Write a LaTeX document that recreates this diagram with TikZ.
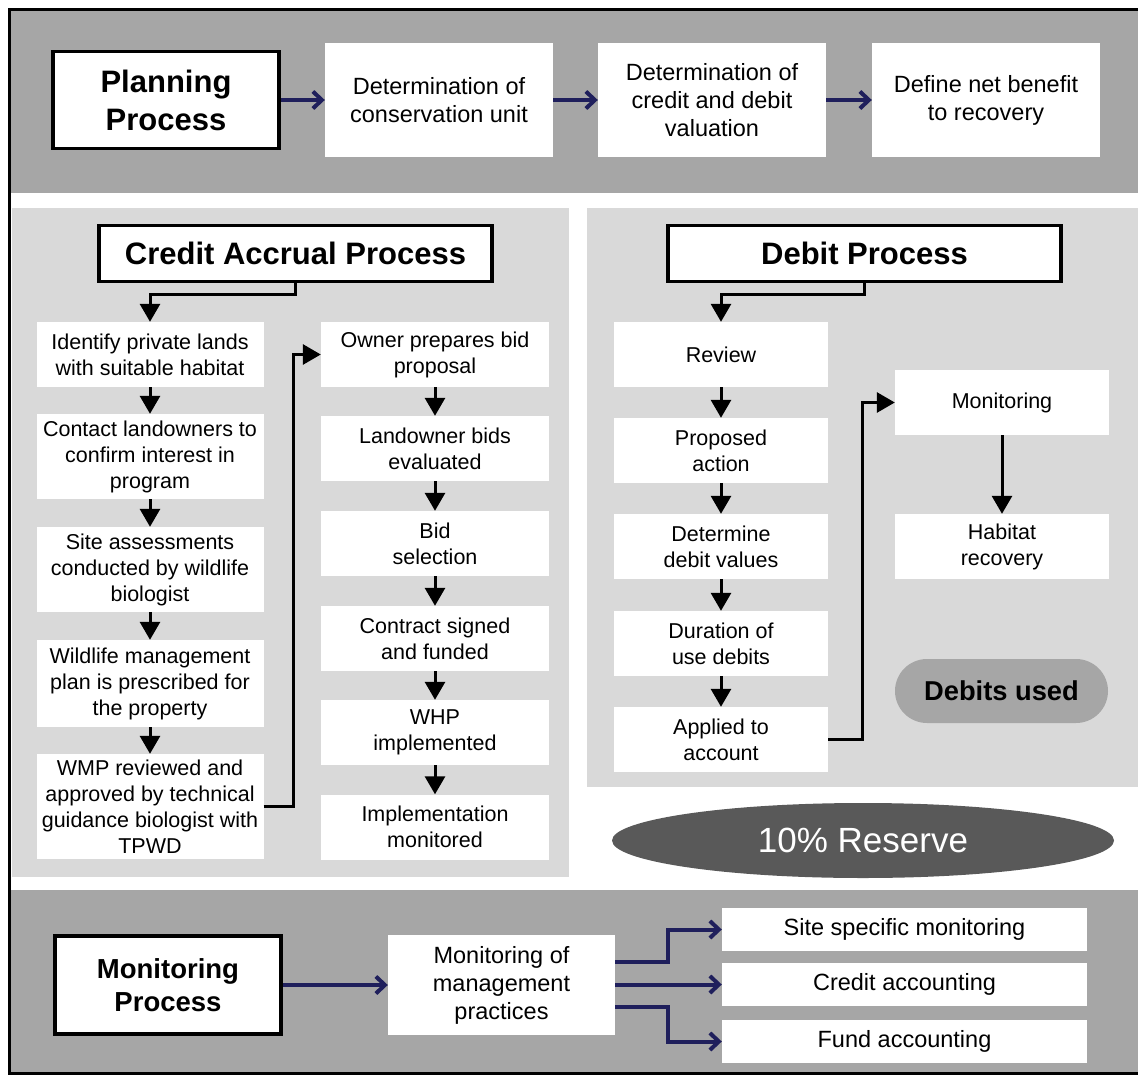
\documentclass[tikz,border=0pt]{standalone}
\usepackage{fontspec}
\setmainfont{Liberation Sans}
\usepackage{tikz}
\usepackage{xcolor}
\usetikzlibrary{arrows.meta,shapes.geometric}
\definecolor{bandgray}{RGB}{166,166,166}
\definecolor{panelgray}{RGB}{217,217,217}
\definecolor{reservegray}{RGB}{89,89,89}
\definecolor{navyline}{RGB}{31,31,92}

\begin{document}
\begin{tikzpicture}[x=1pt,y=-1pt,
  stepbox/.style={fill=white, inner sep=0pt, align=center, font=\fontsize{21.5}{26}\selectfont},
  bigbox/.style={fill=white, inner sep=0pt, align=center, font=\fontsize{23.5}{28}\selectfont},
  headbox/.style={draw=black, line width=3.5pt, fill=white, inner sep=0pt, align=center, font=\bfseries\fontsize{31}{38}\selectfont},
  flow/.style={line width=3pt, -{Triangle[length=18pt,width=20pt]}},
  link/.style={draw=navyline, line width=4pt, -{Straight Barb[length=9pt,width=17pt]}}]
\useasboundingbox (0,0) rectangle (1138,1076);
%% bands and panels
\fill[bandgray] (11,10) rectangle (1138,193);
\fill[panelgray] (12,208) rectangle (569,877);
\fill[panelgray] (587,208) rectangle (1138,787);
\fill[bandgray] (11,890) rectangle (1138,1072);
\draw[line width=3pt] (1138,9) -- (9.5,9) -- (9.5,1073.5) -- (1138,1073.5);

%% planning process
\node[headbox, minimum width=226pt, minimum height=97pt] (plan) at (166,100) {Planning\\Process};
\node[bigbox, minimum width=228pt, minimum height=114pt] (unit) at (439,100) {Determination of\\conservation unit};
\node[bigbox, minimum width=228pt, minimum height=114pt] (valu) at (712,100) {Determination of\\credit and debit\\valuation};
\node[bigbox, minimum width=228pt, minimum height=114pt] (bene) at (986,100) {Define net benefit\\to recovery};
\draw[link] (plan) -- (unit);
\draw[link] (unit) -- (valu);
\draw[link] (valu) -- (bene);

%% credit accrual process
\node[headbox, minimum width=393pt, minimum height=56pt] (credit) at (295.5,253.5) {Credit Accrual Process};
\node[stepbox, minimum width=227pt, minimum height=65pt] (ca1) at (150,354.5) {Identify private lands\\with suitable habitat};
\node[stepbox, minimum width=227pt, minimum height=85pt] (ca2) at (150,456.5) {Contact landowners to\\confirm interest in\\program};
\node[stepbox, minimum width=227pt, minimum height=85pt] (ca3) at (150,569.5) {Site assessments\\conducted by wildlife\\biologist};
\node[stepbox, minimum width=227pt, minimum height=87pt] (ca4) at (150,683.5) {Wildlife management\\plan is prescribed for\\the property};
\node[stepbox, minimum width=227pt, minimum height=105pt] (ca5) at (150,806.5) {WMP reviewed and\\approved by technical\\guidance biologist with\\TPWD};
\node[stepbox, minimum width=228pt, minimum height=65pt] (cb1) at (435,354.5) {Owner prepares bid\\proposal};
\node[stepbox, minimum width=228pt, minimum height=65pt] (cb2) at (435,448.5) {Landowner bids\\evaluated};
\node[stepbox, minimum width=228pt, minimum height=65pt] (cb3) at (435,543.5) {Bid\\selection};
\node[stepbox, minimum width=228pt, minimum height=65pt] (cb4) at (435,638.5) {Contract signed\\and funded};
\node[stepbox, minimum width=228pt, minimum height=65pt] (cb5) at (435,732.5) {WHP\\implemented};
\node[stepbox, minimum width=228pt, minimum height=65pt] (cb6) at (435,827) {Implementation\\monitored};
\draw[flow] (credit.south) -- ++(0,11) -| (ca1.north);
\foreach \a/\b in {ca1/ca2,ca2/ca3,ca3/ca4,ca4/ca5,cb1/cb2,cb2/cb3,cb3/cb4,cb4/cb5,cb5/cb6}
  \draw[flow] (\a) -- (\b);
\draw[flow] (ca5.east) -- ++(30,0) |- (cb1.west);

%% debit process
\node[headbox, minimum width=393pt, minimum height=56pt] (debit) at (864.5,253.5) {Debit Process};
\node[stepbox, minimum width=214pt, minimum height=65pt] (db1) at (721,354.5) {Review};
\node[stepbox, minimum width=214pt, minimum height=65pt] (db2) at (721,450.5) {Proposed\\action};
\node[stepbox, minimum width=214pt, minimum height=65pt] (db3) at (721,546.5) {Determine\\debit values};
\node[stepbox, minimum width=214pt, minimum height=65pt] (db4) at (721,643.5) {Duration of\\use debits};
\node[stepbox, minimum width=214pt, minimum height=65pt] (db5) at (721,739.5) {Applied to\\account};
\node[stepbox, minimum width=214pt, minimum height=65pt] (watch) at (1002,402.5) {Monitoring};
\node[stepbox, minimum width=214pt, minimum height=65pt] (recov) at (1002,546.5) {Habitat\\recovery};
\node[fill=bandgray, rounded corners=32pt, minimum width=213pt, minimum height=64pt,
  font=\bfseries\fontsize{27.3}{32}\selectfont] (used) at (1001.5,691) {Debits used};
\draw[flow] (debit.south) -- ++(0,11) -| (db1.north);
\foreach \a/\b in {db1/db2,db2/db3,db3/db4,db4/db5,watch/recov}
  \draw[flow] (\a) -- (\b);
\draw[flow] (db5.east) -- ++(34,0) |- (watch.west);

%% reserve
\node[ellipse, fill=reservegray, text=white, minimum width=502pt, minimum height=75pt,
  font=\fontsize{35}{40}\selectfont] (reserve) at (863,840.5) {10\% Reserve};

%% monitoring process
\node[headbox, minimum width=226pt, minimum height=98pt, font=\bfseries\fontsize{27.5}{33}\selectfont] (mproc) at (168,985) {Monitoring\\Process};
\node[bigbox, minimum width=227pt, minimum height=100pt] (mgmt) at (501.5,985) {Monitoring of\\management\\practices};
\node[bigbox, minimum width=365pt, minimum height=43pt] (site) at (904.5,929.5) {Site specific monitoring};
\node[bigbox, minimum width=365pt, minimum height=43pt] (cacc) at (904.5,984.5) {Credit accounting};
\node[bigbox, minimum width=365pt, minimum height=43pt] (facc) at (904.5,1041.5) {Fund accounting};
\draw[link] (mproc) -- (mgmt);
\draw[link] ([yshift=23pt]mgmt.east) -- ++(53,0) |- (site.west);
\draw[link] (mgmt.east |- cacc.west) -- (cacc.west);
\draw[link] ([yshift=-22pt]mgmt.east) -- ++(53,0) |- (facc.west);

\end{tikzpicture}
\end{document}
